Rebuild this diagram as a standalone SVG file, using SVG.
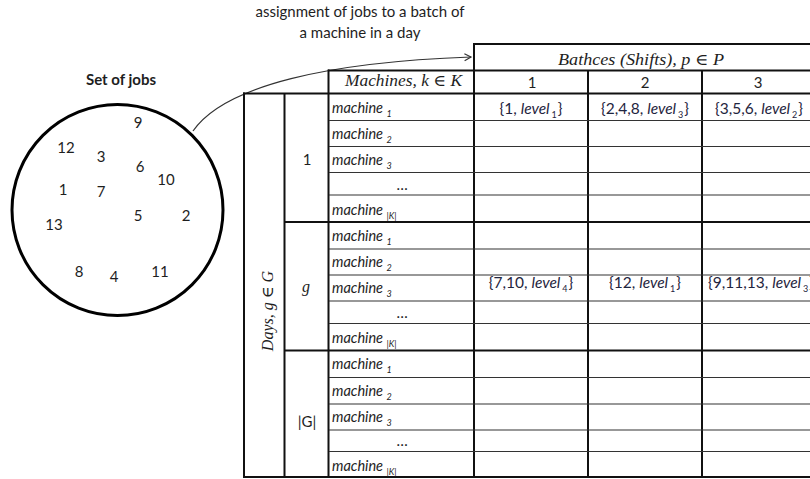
<svg xmlns="http://www.w3.org/2000/svg" width="810" height="479" viewBox="0 0 810 479">
<style>
.sans{font-family:Lato,"Liberation Sans",sans-serif;fill:#1e1e1e;}
.num{font-size:15px;}
.title{font-size:15px;}
.bold{font-weight:bold;}
.math{font-family:"Liberation Serif","DejaVu Serif",serif;font-style:italic;fill:#1e1e1e;font-size:16px;}
.mach{font-family:Lato,"Liberation Sans",sans-serif;font-style:italic;font-size:14.5px;fill:#1e1e1e;}
.sub{font-size:9px;}
.data{font-family:Lato,"Liberation Sans",sans-serif;font-size:15.5px;fill:#1f2540;}
.mid{text-anchor:middle;}
.thick{stroke:#111;stroke-width:2;fill:none;}
.thin{stroke:#333;stroke-width:1.2;fill:none;}
.conn{stroke:#333;stroke-width:1.2;fill:none;}
</style>
<defs>
<marker id="arr" markerWidth="10" markerHeight="10" refX="7" refY="4" orient="auto" markerUnits="userSpaceOnUse">
<path d="M0.5,0.5 L7,4 L0.5,7.5" fill="none" stroke="#333" stroke-width="1.2"/>
</marker>
</defs>
<rect width="810" height="479" fill="#fff"/>

<g id="caption">
<text class="sans title mid" x="360" y="17">assignment of jobs to a batch of</text>
<text class="sans title mid" x="360" y="38">a machine in a day</text>
</g>

<g id="job-set">
<text class="sans title bold mid" x="121" y="85">Set of jobs</text>
<circle cx="117.5" cy="210" r="105.5" fill="none" stroke="#000" stroke-width="3"/>
<text class="sans num mid" x="138" y="128">9</text>
<text class="sans num mid" x="66" y="152.5">12</text>
<text class="sans num mid" x="101" y="161.5">3</text>
<text class="sans num mid" x="140" y="171.5">6</text>
<text class="sans num mid" x="166" y="184.5">10</text>
<text class="sans num mid" x="63" y="194.5">1</text>
<text class="sans num mid" x="101" y="197">7</text>
<text class="sans num mid" x="138" y="220.5">5</text>
<text class="sans num mid" x="186" y="220.5">2</text>
<text class="sans num mid" x="54" y="229.5">13</text>
<text class="sans num mid" x="79" y="276.5">8</text>
<text class="sans num mid" x="114" y="281.5">4</text>
<text class="sans num mid" x="160" y="277">11</text>
</g>

<g id="connectors">
<path class="conn" d="M193,131 C225,85 330,62 471,57" marker-end="url(#arr)"/>
</g>

<g id="table-grid">
<line class="thick" x1="474" y1="44" x2="810" y2="44"/>
<line class="thick" x1="474" y1="43" x2="474" y2="478"/>
<line class="thick" x1="328" y1="70.5" x2="810" y2="70.5"/>
<line class="thick" x1="328.5" y1="69.5" x2="328.5" y2="478"/>
<line class="thick" x1="243" y1="93.5" x2="810" y2="93.5"/>
<line class="thick" x1="244" y1="92.5" x2="244" y2="478"/>
<line class="thick" x1="284.5" y1="93.5" x2="284.5" y2="478"/>
<line class="thick" x1="588" y1="70.5" x2="588" y2="478"/>
<line class="thick" x1="702" y1="70.5" x2="702" y2="478"/>
<line class="thick" x1="284.5" y1="222" x2="810" y2="222"/>
<line class="thick" x1="284.5" y1="350.5" x2="810" y2="350.5"/>
<line class="thick" x1="243" y1="477" x2="810" y2="477"/>
<g>
<line class="thin" x1="329" y1="120.5" x2="810" y2="120.5"/>
<line class="thin" x1="329" y1="146.5" x2="810" y2="146.5"/>
<line class="thin" x1="329" y1="172.5" x2="810" y2="172.5"/>
<line class="thin" x1="329" y1="195" x2="810" y2="195"/>
<line class="thin" x1="329" y1="249" x2="810" y2="249"/>
<line class="thin" x1="329" y1="275" x2="810" y2="275"/>
<line class="thin" x1="329" y1="301" x2="810" y2="301"/>
<line class="thin" x1="329" y1="323.5" x2="810" y2="323.5"/>
<line class="thin" x1="329" y1="377.5" x2="810" y2="377.5"/>
<line class="thin" x1="329" y1="404" x2="810" y2="404"/>
<line class="thin" x1="329" y1="430" x2="810" y2="430"/>
<line class="thin" x1="329" y1="451.5" x2="810" y2="451.5"/>
</g>
</g>

<g id="table-headers">
<text class="math" x="558" y="65" textLength="166" lengthAdjust="spacingAndGlyphs">Bathces (Shifts), p ∈ P</text>
<text class="math" x="345" y="86" textLength="117" lengthAdjust="spacingAndGlyphs">Machines, k ∈ K</text>
<text class="sans num mid" x="532" y="88">1</text>
<text class="sans num mid" x="645" y="88">2</text>
<text class="sans num mid" x="758" y="88">3</text>
<text class="math mid" transform="translate(273,311) rotate(-90)">Days, g ∈ G</text>
</g>

<g id="day-1">
<text class="sans num mid" x="307" y="164.5">1</text>
<text class="mach" x="332" y="113">machine <tspan class="sub" dy="4">1</tspan></text>
<text class="mach" x="332" y="139">machine <tspan class="sub" dy="4">2</tspan></text>
<text class="mach" x="332" y="165">machine <tspan class="sub" dy="4">3</tspan></text>
<text class="sans num mid" x="402" y="190">…</text>
<text class="mach" x="332" y="215">machine <tspan class="sub" dy="4">|K|</tspan></text>
</g>

<g id="day-g">
<text class="math mid" x="306" y="292">g</text>
<text class="mach" x="332" y="241">machine <tspan class="sub" dy="4">1</tspan></text>
<text class="mach" x="332" y="267">machine <tspan class="sub" dy="4">2</tspan></text>
<text class="mach" x="332" y="293">machine <tspan class="sub" dy="4">3</tspan></text>
<text class="sans num mid" x="402" y="318">…</text>
<text class="mach" x="332" y="343">machine <tspan class="sub" dy="4">|K|</tspan></text>
</g>

<g id="day-G">
<text class="sans num mid" x="307" y="426.5">|G|</text>
<text class="mach" x="332" y="369">machine <tspan class="sub" dy="4">1</tspan></text>
<text class="mach" x="332" y="396">machine <tspan class="sub" dy="4">2</tspan></text>
<text class="mach" x="332" y="422">machine <tspan class="sub" dy="4">3</tspan></text>
<text class="sans num mid" x="402" y="446">…</text>
<text class="mach" x="332" y="471">machine <tspan class="sub" dy="4">|K|</tspan></text>
</g>

<g id="assignments">
<text class="data mid" x="531" y="113.5">{1, <tspan font-style="italic">level</tspan><tspan class="sub" dx="2" dy="4">1</tspan><tspan dx="1" dy="-4">}</tspan></text>
<text class="data mid" x="645" y="113.5">{2,4,8, <tspan font-style="italic">level</tspan><tspan class="sub" dx="2" dy="4">3</tspan><tspan dx="1" dy="-4">}</tspan></text>
<text class="data mid" x="759" y="113.5">{3,5,6, <tspan font-style="italic">level</tspan><tspan class="sub" dx="2" dy="4">2</tspan><tspan dx="1" dy="-4">}</tspan></text>
<text class="data mid" x="531" y="287.5">{7,10, <tspan font-style="italic">level</tspan><tspan class="sub" dx="2" dy="4">4</tspan><tspan dx="1" dy="-4">}</tspan></text>
<text class="data mid" x="645" y="287.5">{12, <tspan font-style="italic">level</tspan><tspan class="sub" dx="2" dy="4">1</tspan><tspan dx="1" dy="-4">}</tspan></text>
<text class="data" x="708" y="287.5">{9,11,13, <tspan font-style="italic">level</tspan><tspan class="sub" dx="2" dy="4">3</tspan><tspan dx="1" dy="-4">}</tspan></text>
</g>
</svg>
